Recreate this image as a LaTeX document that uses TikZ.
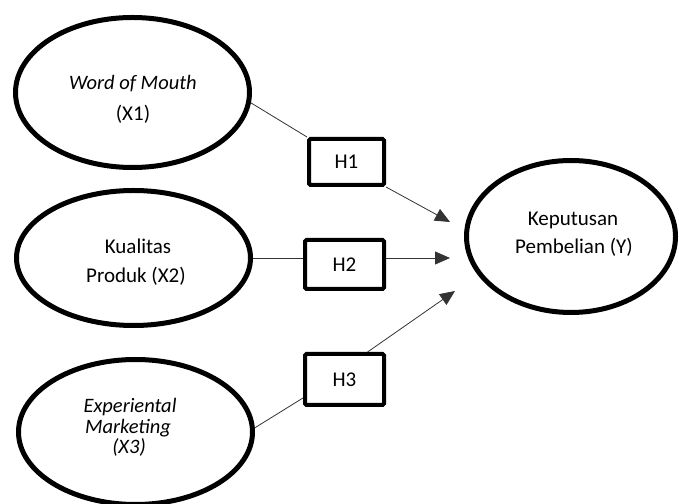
\documentclass[tikz,border=0pt]{standalone}
\usepackage{fontspec}
\setmainfont{Carlito}
\usetikzlibrary{shapes.geometric,arrows.meta}
\begin{document}
\begin{tikzpicture}[x=1pt,y=1pt,
  latent/.style={ellipse,draw=black,line width=5pt,inner sep=0pt,fill=none},
  hypbox/.style={rectangle,draw=black,line width=4pt,rounded corners=1.5pt,inner sep=0pt,
    minimum width=79pt,font=\fontsize{21}{24}\selectfont},
  lbl/.style={anchor=base,inner sep=0pt,font=\fontsize{21}{24}\selectfont},
  lbli/.style={lbl,font=\fontsize{20.5}{24}\selectfont\itshape},
  conn/.style={draw=black!80,line width=0.8pt},
  arr/.style={conn,-{Triangle[length=15pt,width=13pt]}}]
\useasboundingbox (0,0) rectangle (679,503);
\clip (0,0) rectangle (679,503);
% latent variables
\node[latent,minimum width=234pt,minimum height=150pt] (e1) at (132.5,410.5) {};
\node[latent,minimum width=234pt,minimum height=135pt] (e2) at (133.5,245) {};
\node[latent,minimum width=234pt,minimum height=145pt] (e3) at (135.5,71) {};
\node[latent,minimum width=209pt,minimum height=152pt] (ey) at (571,266.5) {};
% labels
\node[lbli] (w1a) at (133,413) {Word of Mouth};
\node[lbl]  (w1b) at (133,382) {(X1)};
\node[lbl]  (w2a) at (138,249) {Kualitas};
\node[lbl]  (w2b) at (136,220) {Produk (X2)};
\node[lbli] (w3a) at (130,91) {Experiental};
\node[lbli] (w3b) at (128,70) {Marketing};
\node[lbli] (w3c) at (129,50) {(X3)};
\node[lbl]  (wya) at (573,277) {Keputusan};
\node[lbl]  (wyb) at (574,249) {Pembelian (Y)};
% hypothesis boxes
\node[hypbox,minimum width=75pt,minimum height=46pt] (h1) at (346.5,341) {H1};
\node[hypbox,minimum height=49pt] (h2) at (344.5,238.5) {H2};
\node[hypbox,minimum height=51pt] (h3) at (344.5,123.5) {H3};
% arrow tips
\coordinate (t1) at (450,281);
\coordinate (t2) at (450,245);
\coordinate (t3) at (455,212);
% connectors
\draw[conn] (e1.-5) -- (h1.north west);
\draw[arr] (h1.south east) -- (t1);
\draw[conn] (e2.east) -- (e2.east -| h2.west);
\draw[arr] (h2.east |- t2) -- (t2);
\draw[conn] (e3.2) -- (h3.204);
\draw[arr] (h3.50) -- (t3);
\end{tikzpicture}
\end{document}
